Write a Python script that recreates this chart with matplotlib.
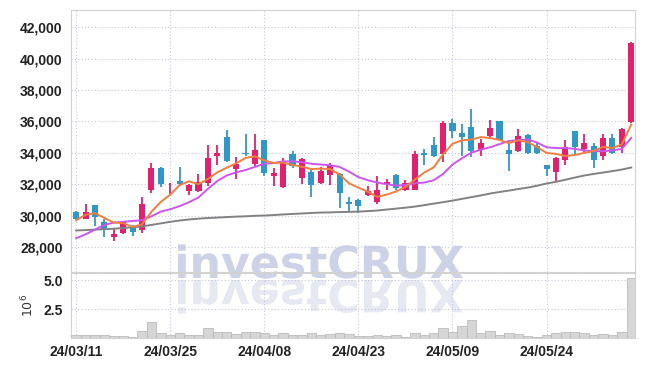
import matplotlib
matplotlib.use('Agg')
import matplotlib.pyplot as plt
import numpy as np
from matplotlib.textpath import TextPath
from matplotlib.patches import PathPatch, Rectangle
from matplotlib.font_manager import FontProperties
from matplotlib.transforms import Affine2D, IdentityTransform
from matplotlib.ticker import FuncFormatter

# daily OHLC (KRW)
opens = [30250, 29800, 30650, 29600, 28600, 28900, 29300, 29050, 31600, 33050,
         31850, 32200, 31550, 31550, 32050, 33800, 35000, 32950, 34000, 33300,
         34800, 32500, 31800, 33900, 32400, 32800, 32100, 32600, 32650, 30850,
         31000, 31300, 30850, 32000, 32600, 31650, 31650, 34000, 34500, 33950,
         35900, 35250, 35650, 34200, 35100, 36000, 34200, 34100, 35150, 34450,
         33200, 32750, 33550, 35400, 34250, 34450, 33800, 34950, 34350, 35950]
highs = [30300, 30750, 30700, 29750, 29150, 29650, 29400, 31150, 33350, 33100,
         32100, 33100, 32000, 32650, 34500, 34500, 35450, 33700, 35200, 35200,
         34800, 33000, 33650, 34100, 33650, 32900, 33100, 33350, 32700, 31150,
         31050, 31850, 32500, 32350, 32650, 32250, 34100, 34250, 35000, 36000,
         36150, 35850, 36800, 34850, 36100, 36000, 34650, 35500, 35200, 34600,
         33250, 33700, 34800, 35400, 35200, 34650, 35200, 35200, 35600, 41050]
lows = [29700, 29750, 29350, 28650, 28350, 28850, 28700, 28900, 31450, 31800,
        31400, 31900, 31300, 31500, 31900, 33250, 33400, 32350, 33800, 33150,
        32550, 31850, 31750, 33050, 32000, 31150, 32000, 31950, 30500, 30200,
        30150, 31250, 30750, 31650, 31650, 31550, 31600, 33200, 33750, 33400,
        34950, 33800, 33750, 33800, 34850, 34800, 32850, 34050, 33950, 33900,
        32500, 32200, 33200, 33900, 34000, 33050, 33550, 33950, 34000, 35900]
closes = [29750, 30200, 29900, 29050, 28850, 29600, 28950, 30750, 33050, 32000,
          31900, 32000, 31950, 32150, 33650, 34000, 33500, 33300, 33900, 34150,
          32700, 32700, 33400, 33150, 33600, 31950, 32850, 33250, 31450, 30750,
          30600, 31550, 31600, 32150, 31750, 32050, 33900, 33850, 33800, 35900,
          35400, 35000, 34100, 34600, 35600, 34800, 33950, 35050, 34000, 34000,
          32950, 33650, 34350, 34350, 34650, 33550, 34950, 34000, 35500, 41000]

# moving averages as drawn on the chart
ma5 = [29700, 30050, 30150, 29850, 29550, 29520, 29270, 29440, 30240, 30870,
       31330, 31940, 32180, 32000, 32330, 32750, 33050, 33320, 33670, 33770,
       33510, 33350, 33370, 33220, 33110, 32960, 32990, 32960, 32620, 32050,
       31780, 31520, 31190, 31330, 31530, 31820, 32290, 32740, 33070, 33900,
       34570, 34790, 34840, 35000, 34940, 34820, 34610, 34800, 34680, 34360,
       33990, 33930, 33790, 33860, 33990, 34110, 34370, 34300, 34530, 35800]
ma20 = [28550, 28800, 29100, 29400, 29550, 29600, 29650, 29700, 29950, 30250,
        30400, 30600, 30850, 31150, 31700, 32200, 32550, 32750, 32900, 33100,
        33300, 33350, 33450, 33450, 33400, 33300, 33250, 33200, 33100, 32800,
        32450, 32250, 32100, 32000, 31900, 31950, 32050, 32100, 32250, 32650,
        33250, 33650, 34000, 34200, 34350, 34550, 34750, 34800, 34850, 34650,
        34350, 34300, 34300, 34250, 34150, 34100, 34100, 34150, 34250, 34950]
ma_long = [29050, 29070, 29100, 29130, 29160, 29200, 29250, 29300, 29400, 29500,
           29600, 29680, 29750, 29800, 29840, 29870, 29900, 29930, 29950, 29980,
           30000, 30030, 30070, 30100, 30130, 30160, 30190, 30200, 30220, 30230,
           30250, 30280, 30320, 30380, 30440, 30500, 30570, 30660, 30760, 30850,
           30950, 31060, 31170, 31280, 31400, 31500, 31590, 31690, 31780, 31900,
           32040, 32150, 32280, 32420, 32550, 32650, 32740, 32830, 32930, 33060]

# volume in millions of shares
volume_m = [0.27, 0.27, 0.27, 0.27, 0.2, 0.2, 0.1, 0.6, 1.4, 0.45,
            0.25, 0.4, 0.25, 0.25, 0.9, 0.55, 0.55, 0.35, 0.55, 0.55,
            0.45, 0.3, 0.45, 0.3, 0.3, 0.45, 0.25, 0.35, 0.45, 0.35,
            0.2, 0.2, 0.3, 0.2, 0.3, 0.1, 0.45, 0.3, 0.45, 0.85,
            0.5, 1.0, 1.55, 0.4, 0.6, 0.3, 0.45, 0.35, 0.2, 0.1,
            0.3, 0.4, 0.5, 0.55, 0.4, 0.3, 0.35, 0.3, 0.55, 5.2]

tick_pos = [0, 10, 20, 30, 40, 50]
tick_labels = ['24/03/11', '24/03/25', '24/04/08', '24/04/23', '24/05/09', '24/05/24']
price_ticks = [28000, 30000, 32000, 34000, 36000, 38000, 40000, 42000]

UP = '#e3206b'
DOWN = '#3197c7'
GRID = '#c6c6dc'
SPINE = '#d2d2d2'
tick_font = FontProperties(family='Liberation Sans', weight='bold', size=10)

W, H = 645, 366
fig = plt.figure(figsize=(W / 100, H / 100), dpi=100)
ax = fig.add_axes([71 / W, (H - 272) / H, 564 / W, 262 / H])
axv = fig.add_axes([71 / W, (H - 338) / H, 564 / W, 65 / H], sharex=ax)
for a in (ax, axv):
    a.set_facecolor('none')
    for s in a.spines.values():
        s.set_color(SPINE)
    a.grid(True, color=GRID, linestyle=(0, (1, 2)), linewidth=0.8)
    a.set_axisbelow(True)
    a.tick_params(length=0, colors='#222222')

# watermark with reflection
fp = FontProperties(family='DejaVu Sans', weight='bold')
tp = TextPath((0, 0), 'investCRUX', size=100, prop=fp)
bb = tp.get_extents()
sc = 285 / bb.width
wm = PathPatch(tp, transform=Affine2D().translate(-bb.x0, 0).scale(sc).translate(178, H - 278),
               facecolor='#cdd2e7', edgecolor='none', zorder=-1)
fig.add_artist(wm)
rf = PathPatch(tp, transform=Affine2D().translate(-bb.x0, 0).scale(sc, -sc).translate(178, H - 280),
               facecolor='#e6e8f2', edgecolor='none', zorder=-1)
clip = Rectangle((150, H - 318), 350, 38, transform=IdentityTransform())
rf.set_clip_path(clip)
fig.add_artist(rf)

x = np.arange(len(closes))
o = np.array(opens)
c = np.array(closes)
cols = [UP if cc >= oo else DOWN for oo, cc in zip(o, c)]
ax.vlines(x, lows, highs, colors=cols, linewidth=1.3, zorder=3)
body = np.maximum(np.abs(c - o), 60)
ax.bar(x, body, bottom=np.minimum(o, c), width=0.65, color=cols, zorder=4)

ax.plot(x, ma_long, color='#828282', linewidth=1.4, zorder=5)
ax.plot(x, ma20, color='#cc55ee', linewidth=1.4, zorder=5)
ax.plot(x, ma5, color='#ef7f3f', linewidth=1.4, zorder=5)

ax.set_ylim(26400, 43100)
ax.set_yticks(price_ticks)
ax.yaxis.set_major_formatter(FuncFormatter(lambda v, p: f'{v:,.0f}'))
ax.tick_params(axis='x', labelbottom=False)
ax.tick_params(axis='y', pad=6)
for t in ax.get_yticklabels():
    t.set_fontproperties(tick_font)

axv.bar(x, volume_m, width=1.0, color='#d6d6d6', edgecolor='#bcbcbc', linewidth=0.6, zorder=3)
axv.set_ylim(0, 5.65)
axv.set_yticks([2.5, 5.0])
axv.set_yticklabels(['2.5', '5.0'])
axv.tick_params(axis='y', pad=6)
axv.set_ylabel('$10^6$', fontsize=9, color='#333333')
axv.yaxis.set_label_coords(-(71 - 36) / 564, 0.5)
axv.set_xticks(tick_pos)
axv.set_xticklabels(tick_labels)
axv.set_xlim(-0.55, 59.4)
axv.tick_params(axis='x', pad=5)
for t in axv.get_yticklabels() + axv.get_xticklabels():
    t.set_fontproperties(tick_font)

fig.savefig('out.png', dpi=100, facecolor='white')
